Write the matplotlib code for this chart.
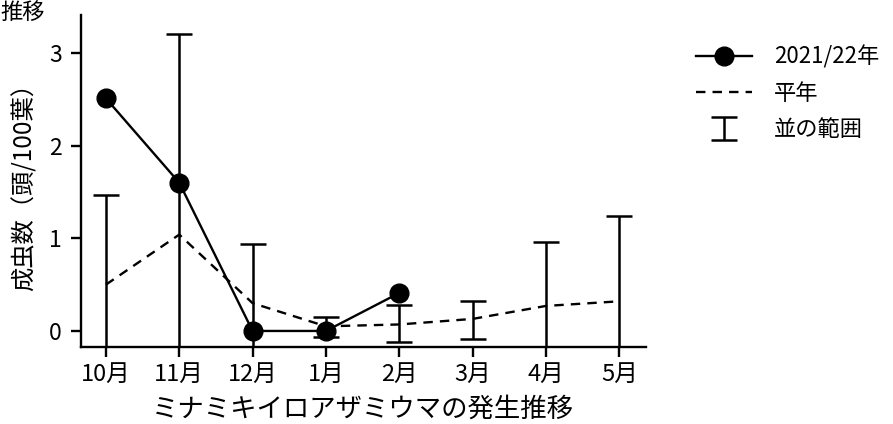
import matplotlib
matplotlib.use("Agg")
import matplotlib.pyplot as plt

plt.rcParams['font.family'] = ['Noto Sans CJK JP', 'DejaVu Sans']

months = ["10月", "11月", "12月", "1月", "2月", "3月", "4月", "5月"]
current = [2.51, 1.60, 0.0, 0.0, 0.41]          # 2021/22年
normal = [0.50, 1.04, 0.30, 0.05, 0.07, 0.13, 0.27, 0.32]   # 平年
range_upper = [1.47, 3.20, 0.94, 0.155, 0.28, 0.32, 0.96, 1.245]
range_lower = [-0.47, -1.12, -0.34, -0.07, -0.115, -0.09, -0.42, -0.60]

fig = plt.figure(figsize=(8.93, 4.24), dpi=100)
ax = fig.add_axes([0.0907, 0.1823, 0.6323, 0.7823])

x_all = list(range(len(months)))
x_cur = x_all[:len(current)]

err_lo = [n - lo for n, lo in zip(normal, range_lower)]
err_hi = [hi - n for n, hi in zip(normal, range_upper)]

eb = ax.errorbar(x_all, normal, yerr=[err_lo, err_hi], fmt='none',
                 ecolor='black', elinewidth=1.8, capsize=9.5, capthick=1.8,
                 label='並の範囲', zorder=2)
ln_n, = ax.plot(x_all, normal, color='black', lw=1.7,
                linestyle=(0, (4, 3)), label='平年', zorder=3)
ln_c, = ax.plot(x_cur, current, color='black', lw=1.7, marker='o',
                markersize=13.5, label='2021/22年', zorder=4)

ax.set_xlim(-0.34, 7.36)
ax.set_ylim(-0.17, 3.41)
ax.set_yticks([0, 1, 2, 3])
ax.set_xticks(x_all)
ax.set_xticklabels(months)

for side in ('top', 'right'):
    ax.spines[side].set_visible(False)
for side in ('left', 'bottom'):
    ax.spines[side].set_linewidth(1.7)

ax.tick_params(axis='y', direction='out', length=7, width=1.7,
               labelsize=16.5, pad=7)
ax.tick_params(axis='x', direction='out', length=7, width=1.7,
               labelsize=17, pad=5)

ax.set_ylabel('成虫数（頭/100葉）', fontsize=17.5, labelpad=8)
ax.set_xlabel('ミナミキイロアザミウマの発生推移', fontsize=19, labelpad=7)

fig.text(0.0, 0.998, '推移', fontsize=16, ha='left', va='top')

fig.legend(handles=[ln_c, ln_n, eb], labels=['2021/22年', '平年', '並の範囲'],
           loc='upper left', bbox_to_anchor=(0.757, 0.94),
           frameon=False, fontsize=16, handlelength=2.5, handletextpad=1.0,
           labelspacing=0.6)

fig.savefig('out.png', dpi=100)
